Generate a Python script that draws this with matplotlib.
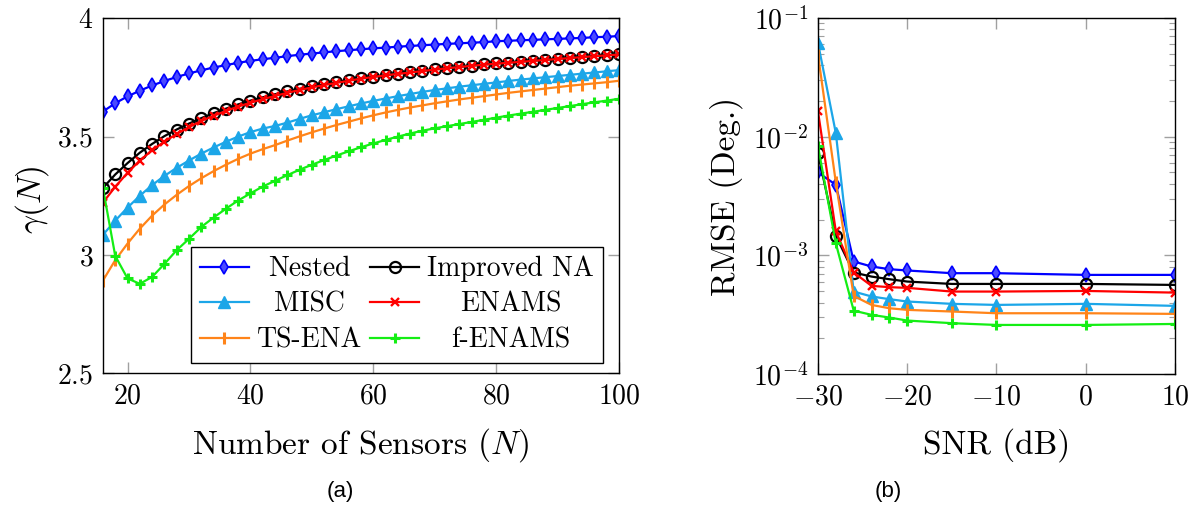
import matplotlib
matplotlib.use("Agg")
import matplotlib.pyplot as plt
from matplotlib.ticker import FuncFormatter, LogLocator, NullFormatter

plt.rcParams.update({'font.family': 'cmr10', 'mathtext.fontset': 'cm',
                     'axes.formatter.use_mathtext': True, 'axes.unicode_minus': False})

# (a) gamma(N) vs number of sensors
n_sensors = list(range(16, 101, 2))
nested = [3.606, 3.641, 3.670, 3.694, 3.716, 3.735, 3.752, 3.767, 3.780, 3.792, 3.802, 3.812, 3.820,
          3.827, 3.833, 3.840, 3.846, 3.851, 3.856, 3.861, 3.865, 3.869, 3.873, 3.876, 3.880, 3.883,
          3.886, 3.889, 3.892, 3.894, 3.897, 3.899, 3.903, 3.905, 3.907, 3.909, 3.911, 3.913, 3.915,
          3.917, 3.920, 3.922, 3.925]
improved_na = [3.283, 3.340, 3.388, 3.432, 3.469, 3.502, 3.530, 3.555, 3.578, 3.599, 3.618, 3.636, 3.652,
               3.666, 3.679, 3.691, 3.702, 3.712, 3.721, 3.730, 3.738, 3.746, 3.753, 3.760, 3.766, 3.772,
               3.778, 3.784, 3.790, 3.795, 3.800, 3.805, 3.809, 3.813, 3.817, 3.821, 3.825, 3.829, 3.833,
               3.837, 3.841, 3.844, 3.848]
enams = [3.221, 3.288, 3.347, 3.399, 3.442, 3.479, 3.511, 3.540, 3.566, 3.588, 3.608, 3.627, 3.643,
         3.658, 3.672, 3.685, 3.697, 3.708, 3.718, 3.727, 3.736, 3.745, 3.752, 3.759, 3.765, 3.771,
         3.777, 3.783, 3.789, 3.794, 3.799, 3.804, 3.808, 3.812, 3.816, 3.820, 3.824, 3.828, 3.832,
         3.836, 3.840, 3.843, 3.847]
misc = [3.085, 3.145, 3.200, 3.250, 3.295, 3.334, 3.368, 3.399, 3.428, 3.454, 3.478, 3.500, 3.519,
        3.534, 3.545, 3.559, 3.575, 3.590, 3.603, 3.616, 3.628, 3.640, 3.651, 3.661, 3.671, 3.680,
        3.689, 3.697, 3.704, 3.711, 3.717, 3.723, 3.729, 3.735, 3.741, 3.746, 3.751, 3.756, 3.761,
        3.766, 3.771, 3.776, 3.781]
ts_ena = [2.892, 2.978, 3.048, 3.111, 3.166, 3.213, 3.254, 3.291, 3.324, 3.354, 3.381, 3.406, 3.428,
          3.447, 3.464, 3.483, 3.501, 3.518, 3.534, 3.549, 3.563, 3.577, 3.590, 3.602, 3.613, 3.623,
          3.632, 3.641, 3.649, 3.657, 3.664, 3.671, 3.678, 3.685, 3.691, 3.697, 3.703, 3.709, 3.715,
          3.720, 3.725, 3.730, 3.736]
f_enams = [3.283, 2.996, 2.901, 2.878, 2.907, 2.962, 3.020, 3.068, 3.118, 3.158, 3.195, 3.230, 3.260,
           3.289, 3.313, 3.337, 3.360, 3.381, 3.401, 3.420, 3.438, 3.455, 3.471, 3.486, 3.500, 3.513,
           3.525, 3.535, 3.544, 3.553, 3.562, 3.571, 3.580, 3.589, 3.597, 3.605, 3.613, 3.621, 3.629,
           3.637, 3.645, 3.652, 3.660]

# (b) RMSE vs SNR
snr = [-30, -28, -26, -24, -22, -20, -15, -10, 0, 10]
rmse_nested = [4.99e-3, 3.93e-3, 8.87e-4, 8.05e-4, 7.64e-4, 7.45e-4, 7.07e-4, 7.07e-4, 6.84e-4, 6.84e-4]
rmse_improved = [7.26e-3, 1.46e-3, 7.16e-4, 6.62e-4, 6.29e-4, 6.01e-4, 5.74e-4, 5.74e-4, 5.74e-4, 5.63e-4]
rmse_misc = [6.15e-2, 1.07e-2, 4.95e-4, 4.50e-4, 4.27e-4, 4.08e-4, 3.90e-4, 3.82e-4, 3.90e-4, 3.75e-4]
rmse_enams = [1.63e-2, 1.59e-3, 7.16e-4, 5.53e-4, 5.39e-4, 5.32e-4, 4.95e-4, 4.95e-4, 5.01e-4, 4.85e-4]
rmse_tsena = [4.91e-2, 4.11e-3, 4.55e-4, 3.82e-4, 3.58e-4, 3.47e-4, 3.36e-4, 3.25e-4, 3.25e-4, 3.21e-4]
rmse_fenams = [8.28e-3, 1.26e-3, 3.42e-4, 3.15e-4, 2.99e-4, 2.82e-4, 2.68e-4, 2.59e-4, 2.59e-4, 2.64e-4]

styles = {
    'Nested': dict(color='#0000ff', marker='d', ms=7, mfc='#4a4aff', mew=1.2),
    'Improved NA': dict(color='black', marker='o', ms=8, mfc='none', mew=1.6),
    'MISC': dict(color='#1ca6e8', marker='^', ms=8.5),
    'ENAMS': dict(color='#ff0000', marker='x', ms=5.5, mew=1.7),
    'TS-ENA': dict(color='#ff8419', marker='|', ms=8, mew=2.2),
    'f-ENAMS': dict(color='#14ee14', marker='+', ms=7.5, mew=2.2),
}

fig = plt.figure(figsize=(12.04, 5.08), dpi=100)
ax1 = fig.add_axes([0.0855, 0.2652, 0.4286, 0.6988])
ax2 = fig.add_axes([0.6794, 0.2638, 0.2965, 0.7008])

left_data = [('Nested', nested), ('MISC', misc), ('TS-ENA', ts_ena),
             ('Improved NA', improved_na), ('ENAMS', enams), ('f-ENAMS', f_enams)]
for name, vals in left_data:
    ax1.plot(n_sensors, vals, lw=1.6, label=name, **styles[name])

right_data = [('Nested', rmse_nested), ('Improved NA', rmse_improved), ('MISC', rmse_misc),
              ('ENAMS', rmse_enams), ('TS-ENA', rmse_tsena), ('f-ENAMS', rmse_fenams)]
for name, vals in right_data:
    ax2.plot(snr, vals, lw=1.6, **styles[name])

mathfmt = FuncFormatter(lambda v, p: '$%g$' % v)

ax1.set_xlim(16, 100)
ax1.set_ylim(2.5, 4)
ax1.set_xticks([20, 40, 60, 80, 100])
ax1.set_yticks([2.5, 3, 3.5, 4])
ax1.xaxis.set_major_formatter(mathfmt)
ax1.yaxis.set_major_formatter(mathfmt)
ax1.set_xlabel('Number of Sensors ($N$)', fontsize=24, va='center')
ax1.set_ylabel(r'$\gamma(N)$', fontsize=24, va='center')
ax1.xaxis.set_label_coords(0.5, -0.203)
ax1.yaxis.set_label_coords(-0.138, 0.49)

leg = ax1.legend(loc='lower right', bbox_to_anchor=(0.9696, 0.030), ncol=2, fontsize=20,
                 frameon=True, fancybox=False, edgecolor='black', framealpha=1,
                 borderaxespad=0, handlelength=1.75, columnspacing=0.3, handletextpad=0.3,
                 labelspacing=0.33, borderpad=0.33)
leg.get_frame().set_linewidth(1.0)

ax2.set_yscale('log')
ax2.set_xlim(-30, 10)
ax2.set_ylim(1e-4, 1e-1)
ax2.set_xticks([-30, -20, -10, 0, 10])
ax2.xaxis.set_major_formatter(mathfmt)
ax2.yaxis.set_major_locator(LogLocator(base=10, numticks=10))
ax2.yaxis.set_minor_locator(LogLocator(base=10, subs=range(2, 10), numticks=10))
ax2.yaxis.set_minor_formatter(NullFormatter())
ax2.set_xlabel('SNR (dB)', fontsize=24, va='center')
ax2.set_ylabel('RMSE (Deg.)', fontsize=24, va='center')
ax2.xaxis.set_label_coords(0.5, -0.2)
ax2.yaxis.set_label_coords(-0.258, 0.5)

for ax in (ax1, ax2):
    ax.tick_params(which='both', direction='in', top=True, right=True, color='#a0a0a0',
                   labelsize=20, pad=7)
    ax.tick_params(which='major', length=8, width=1)
    ax.tick_params(which='minor', length=4.5, width=0.8)
    for s in ax.spines.values():
        s.set_linewidth(1.0)

# centre the legend labels inside their columns, like pgfplots does
fig.canvas.draw()
renderer = fig.canvas.get_renderer()
texts = leg.get_texts()
for col in (texts[:3], texts[3:]):
    w = [t.get_window_extent(renderer).width for t in col]
    for t, wi in zip(col, w):
        t.set_x((max(w) - wi) / 2)

fig.text(0.2824, 0.0315, '(a)', fontsize=16, family='Liberation Sans', ha='center', va='center')
fig.text(0.7375, 0.0315, '(b)', fontsize=16, family='Liberation Sans', ha='center', va='center')

fig.savefig('out.png', dpi=100)
